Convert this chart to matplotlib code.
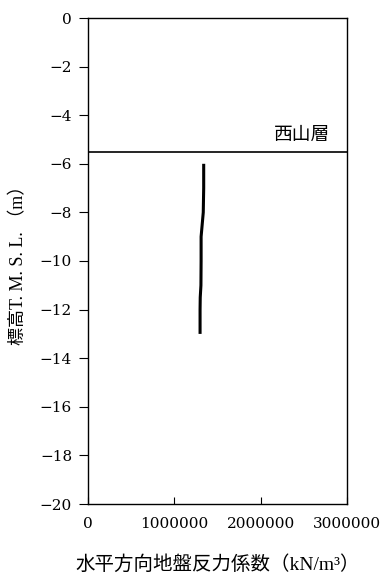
import matplotlib
matplotlib.use("Agg")
import matplotlib.pyplot as plt

# depth (m, T.M.S.L.) and horizontal subgrade reaction coefficient (kN/m3)
depth = [-6, -7, -8, -9, -10, -11, -11.5, -12, -13]
k_h = [1340000, 1340000, 1335000, 1310000, 1310000, 1308000, 1300000, 1298000, 1298000]

layer_name = "西山層"
layer_top = -5.5

x_ticks = [0, 1000000, 2000000, 3000000]
y_ticks = list(range(0, -21, -2))

LABEL_FONTS = ["Liberation Serif", "Noto Sans CJK JP"]
TICK_FONTS = ["DejaVu Serif"]
plt.rcParams["font.family"] = LABEL_FONTS
plt.rcParams["axes.unicode_minus"] = True


def main():
    fig = plt.figure(figsize=(3.85, 5.76), dpi=100)
    ax = fig.add_axes([0.2286, 0.125, 0.6727, 0.84375])

    ax.plot(k_h, depth, color="black", lw=2.2, solid_capstyle="butt")
    ax.axhline(layer_top, color="black", lw=1.2)
    ax.text(2800000, layer_top + 0.3, layer_name, ha="right", va="bottom", fontsize=13.5)

    ax.set_xlim(0, 3000000)
    ax.set_ylim(-20, 0)
    ax.set_xticks(x_ticks)
    ax.set_xticklabels([str(v) for v in x_ticks], family=TICK_FONTS)
    ax.set_yticks(y_ticks)
    ax.set_yticklabels([f"\u2212{-v}" if v < 0 else "0" for v in y_ticks], family=TICK_FONTS)
    ax.tick_params(axis="x", direction="in", length=5, labelsize=11, pad=9)
    ax.tick_params(axis="y", direction="out", length=6.5, labelsize=11, pad=5)
    for s in ax.spines.values():
        s.set_linewidth(1.0)

    ax.set_xlabel("水平方向地盤反力係数（kN/m³）", fontsize=14, labelpad=18)
    ax.set_ylabel("標高T. M. S. L. （m）", fontsize=13, labelpad=9)

    fig.savefig("out.png", dpi=100)


if __name__ == "__main__":
    main()
